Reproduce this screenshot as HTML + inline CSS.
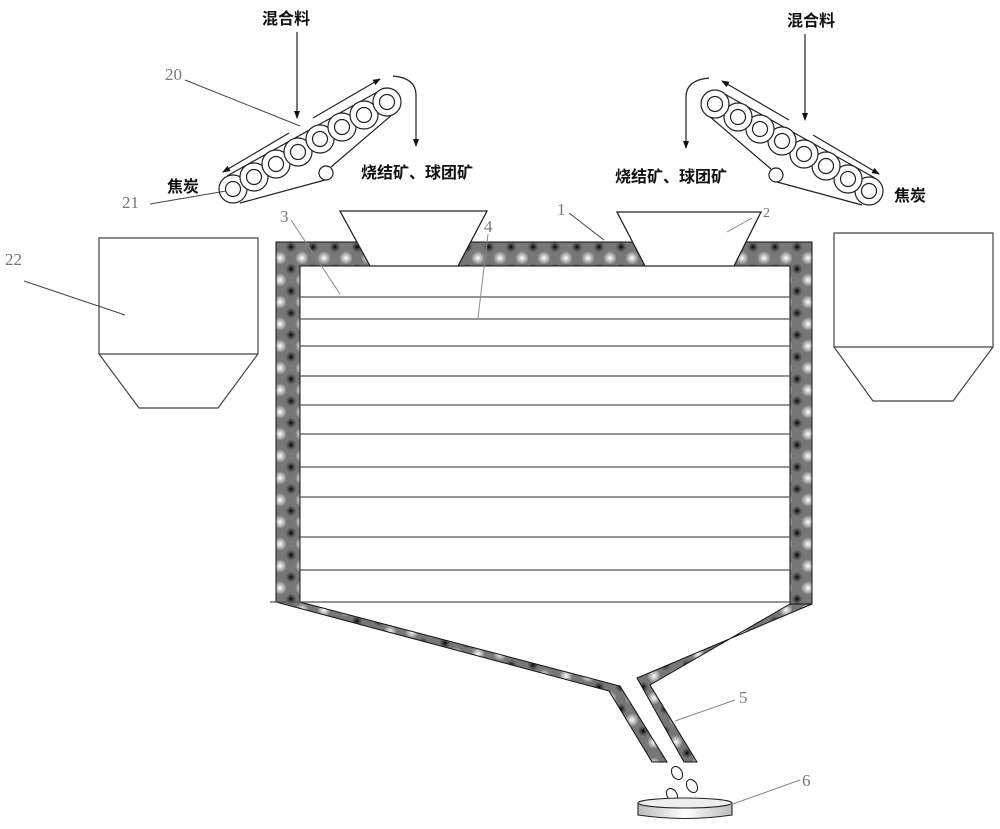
<!DOCTYPE html>
<html><head><meta charset="utf-8"><style>
html,body{margin:0;padding:0;background:#fff}
svg{display:block}
.cn{font-family:"Liberation Sans","Noto Sans CJK SC",sans-serif;font-weight:bold;font-size:16px;fill:#111}
.num{font-family:"Liberation Serif",serif;font-size:17px;fill:#777}
</style></head><body>
<svg width="1000" height="829" viewBox="0 0 1000 829" xmlns="http://www.w3.org/2000/svg">
<defs>
<radialGradient id="rg"><stop offset="0" stop-color="#000"/><stop offset="0.6" stop-color="#555" stop-opacity="0.6"/><stop offset="1" stop-color="#888" stop-opacity="0"/></radialGradient>
<radialGradient id="wg"><stop offset="0" stop-color="#fff"/><stop offset="1" stop-color="#fff" stop-opacity="0"/></radialGradient>
<pattern id="wall" width="22" height="22" patternUnits="userSpaceOnUse">
<rect width="22" height="22" fill="#777"/>
<circle cx="5" cy="5" r="7" fill="url(#rg)"/>
<circle cx="16" cy="16" r="7" fill="url(#wg)"/>
</pattern>
<linearGradient id="plate" x1="0" x2="1"><stop offset="0" stop-color="#bbb"/><stop offset="0.5" stop-color="#fff"/><stop offset="1" stop-color="#bbb"/></linearGradient>
<marker id="ar" markerWidth="8" markerHeight="8" refX="7" refY="4" orient="auto" markerUnits="userSpaceOnUse"><path d="M0,1 L8,4 L0,7z" fill="#111"/></marker>
<g id="conv" fill="#fff" stroke="#222" stroke-width="1.2">
<path d="M227,176 L381,90 M240,203 L325,180 M331,167 L400,108" fill="none"/>
<circle cx="233" cy="189" r="14"/><circle cx="233" cy="189" r="7.5"/>
<circle cx="254" cy="177" r="14"/><circle cx="254" cy="177" r="7.5"/>
<circle cx="276" cy="164" r="14"/><circle cx="276" cy="164" r="7.5"/>
<circle cx="298" cy="152" r="14"/><circle cx="298" cy="152" r="7.5"/>
<circle cx="320" cy="139" r="14"/><circle cx="320" cy="139" r="7.5"/>
<circle cx="342" cy="127" r="14"/><circle cx="342" cy="127" r="7.5"/>
<circle cx="364" cy="115" r="14"/><circle cx="364" cy="115" r="7.5"/>
<circle cx="387" cy="102" r="14"/><circle cx="387" cy="102" r="7.5"/>
<circle cx="326" cy="173" r="7"/>
<path d="M313,118 L380,79" fill="none" marker-end="url(#ar)"/>
<path d="M289,133 L223,172" fill="none" marker-end="url(#ar)"/>
<path d="M297,32 L297,118" fill="none" marker-end="url(#ar)"/>
<path d="M393,76 Q416,78 416,95 L416,146" fill="none" marker-end="url(#ar)"/>
</g>
</defs>

<use href="#conv"/>
<use href="#conv" transform="translate(1102,2) scale(-1,1)"/>

<text class="cn" x="262" y="24">混合料</text>
<text class="cn" x="167" y="192">焦炭</text>
<text class="cn" x="361" y="178">烧结矿、球团矿</text>
<text class="cn" x="787" y="26">混合料</text>
<text class="cn" x="894" y="201">焦炭</text>
<text class="cn" x="615" y="182">烧结矿、球团矿</text>

<g fill="none" stroke="#444" stroke-width="1.2">
<path d="M99,354 L99,238 L258,238 L258,354 Z M99,354 L139,408 L218,408 L258,354"/>
<path d="M834,347 L834,233 L993,233 L993,347 Z M834,347 L873,401 L953,401 L993,347"/>
</g>

<path d="M276,602 L276,242 L812,242 L812,604 L790,604 L790,266 L300,266 L300,602 Z" fill="url(#wall)" stroke="#111" stroke-width="1"/>
<path d="M276,602 L300,602 L620,686 L667,762 L652,762 L609,691 Z" fill="url(#wall)" stroke="#111" stroke-width="1"/>
<path d="M812,604 L637,678 L684,762 L697,762 L650,685 L790,604 Z" fill="url(#wall)" stroke="#111" stroke-width="1"/>

<path d="M340,211 L487,211 L458,266 L370,266 Z" fill="#fff" stroke="#222" stroke-width="1.3"/>
<path d="M617,212 L761,212 L734,266 L645,266 Z" fill="#fff" stroke="#222" stroke-width="1.3"/>

<g stroke="#555" stroke-width="1.2">
<line x1="300" y1="297" x2="790" y2="297"/>
<line x1="300" y1="319" x2="790" y2="319"/>
<line x1="300" y1="346" x2="790" y2="346"/>
<line x1="300" y1="376" x2="790" y2="376"/>
<line x1="300" y1="405" x2="790" y2="405"/>
<line x1="300" y1="434" x2="790" y2="434"/>
<line x1="300" y1="467" x2="790" y2="467"/>
<line x1="300" y1="497" x2="790" y2="497"/>
<line x1="300" y1="537" x2="790" y2="537"/>
<line x1="300" y1="570" x2="790" y2="570"/>
<line x1="270" y1="602" x2="790" y2="602"/>
</g>

<g fill="#fff" stroke="#222" stroke-width="1.1">
<ellipse cx="677" cy="773" rx="5" ry="7" transform="rotate(-30 677 773)"/>
<ellipse cx="692" cy="786" rx="5" ry="7" transform="rotate(-30 692 786)"/>
<ellipse cx="672" cy="795" rx="5" ry="7" transform="rotate(-30 672 795)"/>
<path d="M638,803 L638,815 Q685,822 732,815 L732,803" fill="url(#plate)"/>
<ellipse cx="685" cy="803" rx="47" ry="5" fill="#eee"/>
</g>

<g stroke="#444" stroke-width="1">
<line x1="185" y1="80" x2="300" y2="126"/>
<line x1="150" y1="204" x2="226" y2="191"/>
<line x1="24" y1="281" x2="125" y2="315"/>
<line x1="291" y1="220" x2="340" y2="294" stroke="#888"/>
<line x1="569" y1="213" x2="604" y2="240"/>
<line x1="488" y1="234" x2="478" y2="318" stroke="#888"/>
<line x1="752" y1="218" x2="727" y2="232" stroke="#888"/>
<line x1="735" y1="700" x2="675" y2="721" stroke="#888"/>
<line x1="800" y1="780" x2="730" y2="805" stroke="#888"/>
</g>
<text class="num" x="165" y="80">20</text>
<text class="num" x="122" y="208">21</text>
<text class="num" x="5" y="265">22</text>
<text class="num" x="280" y="222">3</text>
<text class="num" x="557" y="215">1</text>
<text class="num" x="484" y="232">4</text>
<text class="num" x="763" y="217" style="font-size:14px">2</text>
<text class="num" x="739" y="703">5</text>
<text class="num" x="802" y="786">6</text>
</svg>
</body></html>
